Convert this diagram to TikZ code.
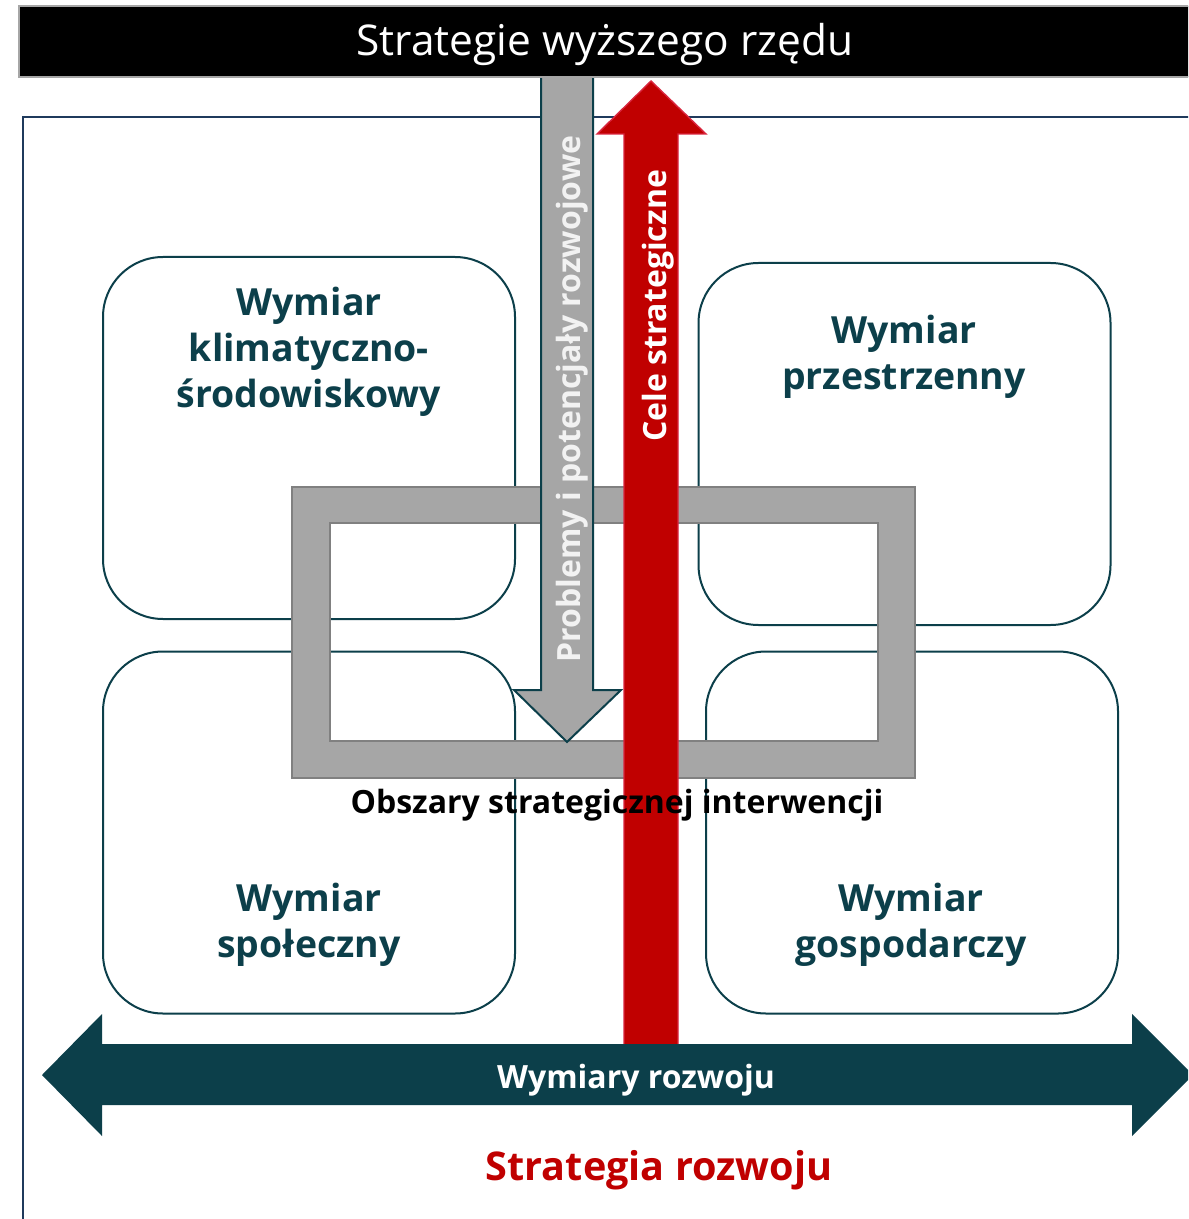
\documentclass[tikz,border=0pt]{standalone}
\usepackage{fontspec}
\setmainfont{Open Sans}
\definecolor{dimteal}{HTML}{0C3F4A}
\definecolor{dimred}{HTML}{C00000}
\definecolor{redrim}{HTML}{D9263E}
\definecolor{dimgrey}{HTML}{A6A6A6}
\definecolor{greyrim}{HTML}{808080}
\definecolor{framenavy}{HTML}{1F3A5C}
\definecolor{paleword}{HTML}{F2F2F2}

\begin{document}
\begin{tikzpicture}[x=0.5pt,y=-0.5pt,
  dimbox/.style={draw=dimteal,line width=1pt,rounded corners=30pt,minimum width=206pt,minimum height=181pt},
  dimtext/.style={text=dimteal,font=\fontsize{18.7}{23}\selectfont\bfseries,align=center},
  sidetext/.style={anchor=base,rotate=90,font=\fontsize{16}{20}\selectfont\bfseries}]
\useasboundingbox (0,0) rectangle (1188,1219);
\clip (0,0) rectangle (1188,1219);
\fill[white] (0,0) rectangle (1188,1219);

\draw[framenavy,line width=1pt] (23,1240) -- (23,117) -- (1220,117);

\node[dimbox] (klim) at (309,438) {};
\node[dimbox] (space) at (904.5,444) {};
\node[dimbox] (social) at (309,832.5) {};
\node[dimbox] (econ) at (912,832.5) {};

\node[dimtext] (klimtxt) at (309,352) {Wymiar\\klimatyczno-\\środowiskowy};
\node[dimtext] (spacetxt) at (904,356.5) {Wymiar\\przestrzenny};
\node[dimtext] (socialtxt) at (309,925) {Wymiar\\społeczny};
\node[dimtext] (econtxt) at (911,925) {Wymiar\\gospodarczy};

\draw[draw=greyrim,fill=dimgrey,line width=1pt,even odd rule]
  (292,487) rectangle (915,778) (330,523) rectangle (878,741);

\draw[draw=dimteal,fill=dimgrey,line width=1pt]
  (541,77) -- (541,690) -- (514,690) -- (567,742) -- (621,690) -- (593,690) -- (593,77);
\draw[draw=redrim,fill=dimred,line width=0.7pt]
  (624,1070) -- (624,134) -- (597,134) -- (651,81) -- (706,134) -- (678,134) -- (678,1070) -- cycle;

\node[sidetext,text=paleword] (problems) at (580,399) {Problemy i potencjały rozwojowe};
\node[sidetext,text=white] (goals) at (666,306) {Cele strategiczne};

\node[anchor=base,font=\fontsize{16}{19}\selectfont\bfseries] (areas) at (617,813) {Obszary strategicznej interwencji};

\fill[dimteal] (42,1075) -- (102,1014) -- (102,1044) -- (1132,1044) -- (1132,1014) -- (1193,1075)
  -- (1132,1136) -- (1132,1105) -- (102,1105) -- (102,1136) -- cycle;
\node[anchor=base,text=white,font=\fontsize{16}{20}\selectfont\bfseries] (dims) at (636,1088) {Wymiary rozwoju};
\node[anchor=base,text=dimred,font=\fontsize{19.8}{24}\selectfont\bfseries] (strategy) at (659,1180) {Strategia rozwoju};

\draw[fill=black,draw=dimgrey,line width=1pt] (19,6) rectangle (1220,77);
\node[anchor=base,text=white,font=\fontsize{21.2}{26}\selectfont] (higher) at (605,56) {Strategie wyższego rzędu};
\end{tikzpicture}
\end{document}
